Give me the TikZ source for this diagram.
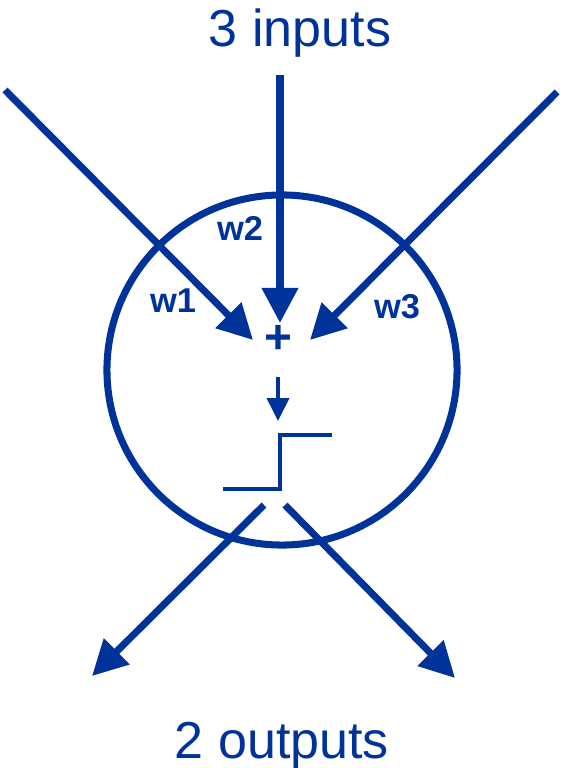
\documentclass[tikz,border=0pt]{standalone}
\usepackage{fontspec}
\setmainfont{Liberation Sans}
\usetikzlibrary{arrows.meta,positioning}
\definecolor{nblue}{RGB}{0,51,153}

\begin{document}
\begin{tikzpicture}[x=0.025cm, y=-0.025cm,
          lab/.style={text=nblue, font=\fontsize{37}{40}\selectfont, anchor=base},
          wlab/.style={text=nblue, font=\bfseries\fontsize{24.5}{26}\selectfont, anchor=base},
          big/.style={-{Triangle[length=0.875cm, width=0.875cm]}, line width=5pt, nblue},
          small/.style={-{Triangle[length=0.57cm, width=0.55cm]}, line width=2.2pt, nblue},
          stepline/.style={line width=2.8pt, nblue}
        ]
        \useasboundingbox (0,0) rectangle (563,768);

        % neuron body
        \node[circle, draw=nblue, line width=5pt, minimum size=8.75cm, inner sep=0pt]
            (body) at (282,370) {};

        \node[lab] (inputs) at (300,47) {3 inputs};
        \node[lab] (outputs) at (282,758) {2 outputs};

        % free ends of the connectors
        \coordinate (in1) at (5,90);
        \coordinate (in2) at (280,75);
        \coordinate (in3) at (557,92);
        \coordinate (tip1) at (253,340);
        \coordinate (tip2) at (280,323);
        \coordinate (tip3) at (310,340);

        \draw[big] (in1) -- (tip1);
        \draw[big] (in2) -- (tip2);
        \draw[big] (in3) -- (tip3);

        \node[wlab] (w1) at (173,312) {w1};
        \node[wlab] (w2) at (240,240) {w2};
        \node[wlab] (w3) at (397,318) {w3};

        % summation and step function
        \node[text=nblue, font=\bfseries\fontsize{34}{36}\selectfont, inner sep=0pt]
            (sum) at (278,339) {+};
        \coordinate (sumout) at (278,377);
        \coordinate (stepin) at (278,421);
        \draw[small] (sumout) -- (stepin);

        \coordinate (lo) at (223,489);
        \coordinate (rise) at (280,489);
        \coordinate (hi) at (280,435);
        \coordinate (hiend) at (332,435);
        \draw[stepline] (lo) -- (rise) -- (hi) -- (hiend);

        \coordinate (out1) at (264,505);
        \coordinate (out2) at (285,505);
        \coordinate (end1) at (92,676);
        \coordinate (end2) at (455,678);
        \draw[big] (out1) -- (end1);
        \draw[big] (out2) -- (end2);
      \end{tikzpicture}
\end{document}
